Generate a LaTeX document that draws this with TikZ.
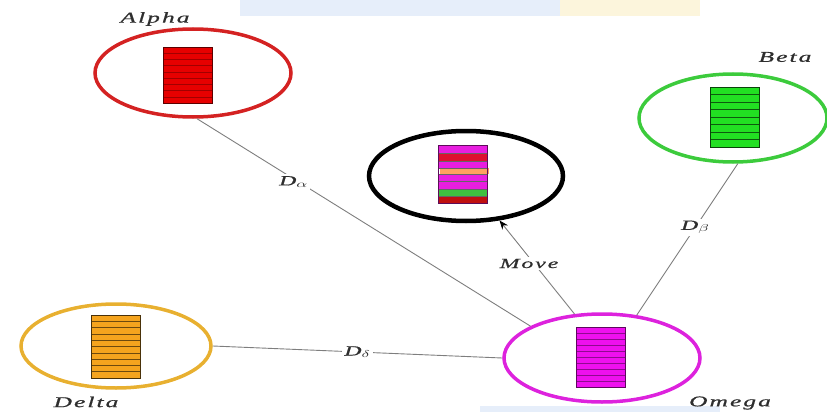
\documentclass[tikz,border=0pt]{standalone}
\usepackage{fontspec}
\setmainfont{Liberation Serif}
\newfontfamily\lblfont{Liberation Serif}[LetterSpace=8, ItalicFeatures={FakeBold=0.6}]
\usepackage{graphicx}
\usetikzlibrary{shapes.geometric,arrows.meta}
\definecolor{alphared}{HTML}{D42222}
\definecolor{alphafill}{HTML}{E60000}
\definecolor{betagreen}{HTML}{3CCB3C}
\definecolor{betafill}{HTML}{22E022}
\definecolor{deltagold}{HTML}{E8B030}
\definecolor{deltafill}{HTML}{F5A41E}
\definecolor{omegamag}{HTML}{DD22DD}
\definecolor{omegafill}{HTML}{EE10EE}
\definecolor{linegray}{HTML}{7E7E7E}
\definecolor{txtgray}{HTML}{2E2E2E}
\definecolor{cmag}{HTML}{E81EE0}
\definecolor{cred}{HTML}{DD1030}
\definecolor{corange}{HTML}{FFA060}
\definecolor{cgreen}{HTML}{40C040}
\definecolor{cdred}{HTML}{C01010}
\definecolor{wmblue}{HTML}{E6EEFA}
\definecolor{wmyellow}{HTML}{FCF5DC}
\newcommand\mystack[8]{%
  \fill[#5] (#1,#2) rectangle (#3,#4);
  \foreach \i in {1,...,#7} {\draw[#6, line width=0.5pt] (#1,{#2+(#4-#2)*\i/(#7+1)}) -- (#3,{#2+(#4-#2)*\i/(#7+1)});}
  \draw[#8, line width=0.8pt] (#1,#2) rectangle (#3,#4);
}
\newcommand\lbltext[1]{\scalebox{1.7}[1]{#1}}
\newcommand\dlab[1]{\scalebox{1.7}[1]{D$_{#1}$}}
\tikzset{
  blob/.style={ellipse, inner sep=0pt, line width=3.5pt},
  conn/.style={draw=linegray, line width=0.9pt},
  lbl/.style={text=txtgray, font=\lblfont\itshape\fontsize{15}{17}\selectfont, inner sep=1pt},
  dlbl/.style={fill=white, text=txtgray, inner sep=2pt, font=\lblfont\itshape\fontsize{14}{16}\selectfont},
}
\begin{document}
\begin{tikzpicture}[x=1pt,y=-1pt]
\useasboundingbox (0,0) rectangle (827,412);
% faint watermark bands
\fill[wmblue] (240,0) rectangle (560,16);
\fill[wmyellow] (560,0) rectangle (700,16);
\fill[wmblue] (480,406) rectangle (720,412);
% ellipses
\node[blob, draw=alphared, minimum width=196pt, minimum height=88pt] (A) at (193,73) {};
\node[blob, draw=betagreen, minimum width=188pt, minimum height=88pt] (B) at (733,118) {};
\node[blob, draw=black, line width=4.5pt, minimum width=194pt, minimum height=90pt] (C) at (466,176) {};
\node[blob, draw=deltagold, minimum width=190pt, minimum height=84pt] (D) at (116,346) {};
\node[blob, draw=omegamag, minimum width=196pt, minimum height=88pt] (O) at (602,358) {};
% stacks
\mystack{163}{47}{212}{103}{alphafill}{alphafill!70!black}{8}{alphafill!40!black}
\mystack{710}{87}{759}{147}{betafill}{betafill!40!black}{7}{betafill!30!black}
\mystack{91}{315}{140}{378}{deltafill}{deltafill!45!black}{9}{deltafill!30!black}
\mystack{576}{327}{625}{387}{omegafill}{omegafill!60!black}{9}{omegafill!40!black}
% center stack
\fill[cmag] (438,145) rectangle (487,153.3);
\fill[cred] (438,153.3) rectangle (487,161.7);
\fill[cmag] (438,161.7) rectangle (487,168.3);
\fill[corange] (440,168.3) rectangle (489,174);
\fill[cmag] (438,174) rectangle (487,189.3);
\fill[cgreen] (438,189.3) rectangle (487,196.7);
\fill[cdred] (438,196.7) rectangle (487,203);
\foreach \yy in {153.3,161.7,168.3,174,181.5,189.3,196.7} {\draw[black!60, line width=0.5pt] (438,\yy) -- (487,\yy);}
\draw[cmag!40!black, line width=0.8pt] (438,145) rectangle (487,203);
% connectors
\draw[conn] (A.-85) -- node[dlbl, pos=0.29, yshift=-3pt] {\dlab{\alpha}} (O.156);
\draw[conn] (D.0) -- node[dlbl, pos=0.5] {\dlab{\delta}} (O.180);
\draw[conn] (B.-84) -- node[dlbl, pos=0.42] {\dlab{\beta}} (O.51);
\draw[conn, -{Stealth[length=9pt,width=7pt,color=black]}] (O.122) -- node[dlbl, pos=0.54, xshift=-5pt] {\lbltext{Move}} (C.-53);
% labels
\node[lbl] (la) at (155,19) {\lbltext{Alpha}};
\node[lbl] (lb) at (785,57) {\lbltext{Beta}};
\node[lbl] (ld) at (86,402) {\lbltext{Delta}};
\node[lbl] (lo) at (730,403) {\lbltext{Omega}};
\end{tikzpicture}
\end{document}
